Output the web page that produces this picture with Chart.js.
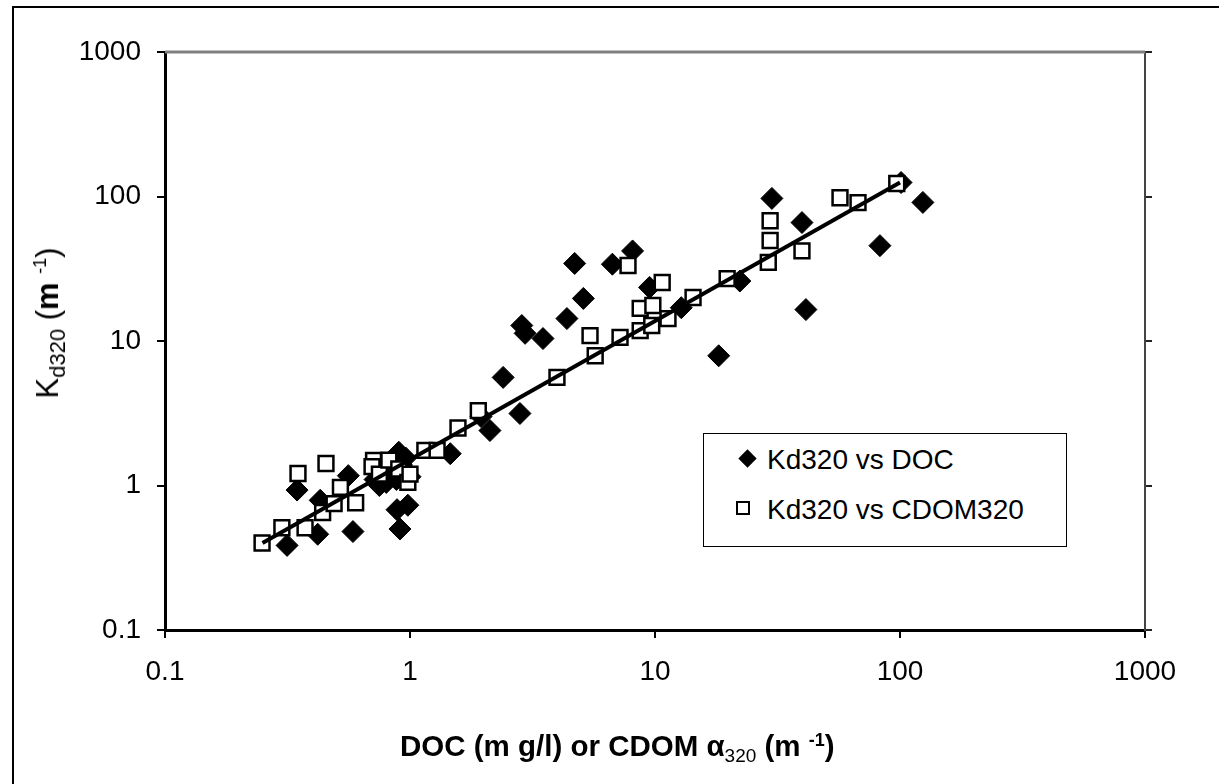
<!DOCTYPE html>
<html><head><meta charset="utf-8">
<script src="https://cdn.jsdelivr.net/npm/chart.js@4.4.0/dist/chart.umd.min.js"></script>
<style>
html,body{margin:0;padding:0;background:#fff;overflow:hidden;}
#wrap{position:relative;width:1219px;height:784px;overflow:hidden;}
#frame{position:absolute;left:12px;top:6px;width:1300px;height:900px;border-left:2px solid #000;border-top:2px solid #000;}
canvas{position:absolute;left:0;top:0;}
.t{position:absolute;font-family:"Liberation Sans",Arial,sans-serif;color:#000;white-space:nowrap;line-height:1;}
#xt{left:400px;top:731px;font-size:29.5px;font-weight:bold;}
#xt sub{font-size:19px;font-weight:normal;vertical-align:-6px;}
#xt sup{font-size:18px;vertical-align:10px;}
#yt{left:50px;top:323px;font-size:31px;transform:translate(-50%,-50%) rotate(-90deg);}
#yt sub{font-size:22px;vertical-align:-7px;}
#yt sup{font-size:18px;vertical-align:12px;}
#leg{position:absolute;left:703px;top:433px;width:362px;height:112px;border:1.5px solid #000;background:#fff;}
.li{position:absolute;font-family:"Liberation Sans",Arial,sans-serif;font-size:28px;line-height:1;white-space:nowrap;}
.dia{position:absolute;width:13px;height:13px;background:#000;transform:rotate(45deg);}
.sq{position:absolute;width:10px;height:10px;border:2px solid #000;background:#fff;}
</style></head>
<body>
<div id="wrap">
<div id="frame"></div>
<canvas id="c" width="1219" height="784"></canvas>
<div class="t" id="yt">K<sub>d320</sub> (<b>m</b> <sup>-1</sup>)</div>
<div class="t" id="xt">DOC (m g/l) or CDOM &alpha;<sub>320</sub> (m <sup>-1</sup>)</div>
<div id="leg">
  <div class="dia" style="left:37px;top:18px;"></div>
  <div class="li" id="l1" style="left:63px;top:12px;"></div>
  <div class="sq" style="left:32px;top:67px;"></div>
  <div class="li" id="l2" style="left:63px;top:62px;"></div>
</div>
</div>
<script>
// ---- data ----
const seriesNames = ['Kd320 vs DOC', 'Kd320 vs CDOM320'];
const xTicks = [0.1, 1, 10, 100, 1000];
const yTicks = [0.1, 1, 10, 100, 1000];

const docX = [0.315,0.346,0.43,0.42,0.56,0.585,0.75,0.8,0.85,0.9,0.95,0.78,0.88,1.0,0.885,0.91,0.98,0.82,0.92,0.86,0.96,0.8,0.72,1.46,2.12,1.95,2.4,2.81,2.86,2.95,3.49,4.37,4.7,5.1,6.7,8.1,9.5,12.8,18.2,22.2,30,39.8,41.3,82.8,101,124];
const docY = [0.385,0.93,0.79,0.46,1.17,0.48,1.0,1.2,1.5,1.7,1.3,1.35,1.1,1.15,0.68,0.5,0.73,1.45,1.4,1.25,1.55,1.05,1.1,1.66,2.4,3.0,5.6,3.15,12.8,11.3,10.4,14.3,34.4,19.7,34,42,23.5,17,7.9,26,97,66,16.5,45.7,125,91];

const cdomX = [0.249,0.30,0.349,0.373,0.44,0.454,0.52,0.49,0.6,0.71,0.7,0.75,0.82,0.9,0.98,1.0,1.15,1.29,1.57,1.9,3.98,5.43,5.7,7.2,7.76,8.7,8.7,9.7,9.8,10.7,11.3,14.3,19.7,29,29.5,29.5,39.8,56.9,67.4,97];
const cdomY = [0.40,0.51,1.21,0.51,0.65,1.42,0.97,0.75,0.76,1.49,1.35,1.2,1.5,1.3,1.05,1.2,1.75,1.75,2.5,3.3,5.6,10.9,7.9,10.6,33.3,11.8,16.8,12.8,17.6,25.4,14.3,20,27,35,49.6,68,42,98,90.8,123];

const trendX = [0.25, 100];
const trendY = [0.4, 125];
// ---------------

document.getElementById('l1').textContent = seriesNames[0];
document.getElementById('l2').textContent = seriesNames[1];

const FONT = '"Liberation Sans", Arial, sans-serif';
const pts = (xs, ys) => xs.map((x, i) => ({x: x, y: ys[i]}));

const topBorder = {
  id: 'topBorder',
  afterDraw(chart) {
    const a = chart.chartArea, ctx = chart.ctx;
    ctx.save();
    ctx.strokeStyle = '#808080';
    ctx.lineWidth = 3;
    ctx.beginPath();
    ctx.moveTo(a.left, a.top);
    ctx.lineTo(a.right, a.top);
    ctx.stroke();
    ctx.restore();
  }
};

new Chart(document.getElementById('c'), {
  type: 'scatter',
  data: {
    datasets: [
      {type: 'line', label: 'trend', data: pts(trendX, trendY), borderColor: '#000', borderWidth: 4,
       pointRadius: 0, fill: false, order: 0},
      {label: seriesNames[1], data: pts(cdomX, cdomY), pointStyle: 'rect', pointRadius: 10.5,
       backgroundColor: '#fff', borderColor: '#000', borderWidth: 2.5, order: 1},
      {label: seriesNames[0], data: pts(docX, docY), pointStyle: 'rectRot', pointRadius: 11,
       backgroundColor: '#000', borderColor: '#000', borderWidth: 1, order: 2}
    ]
  },
  options: {
    responsive: false,
    animation: false,
    devicePixelRatio: 1,
    layout: {padding: {left: 0, right: 0, top: 52, bottom: 0}},
    plugins: {legend: {display: false}, tooltip: {enabled: false}, title: {display: false}},
    scales: {
      x: {
        type: 'logarithmic', position: 'bottom', min: 0.1, max: 1000,
        afterBuildTicks: s => { s.ticks = xTicks.map(v => ({value: v})); },
        afterFit: s => { s.height = 154; },
        ticks: {callback: v => String(v), font: {family: FONT, size: 28}, color: '#000', padding: 17,
                maxRotation: 0, autoSkip: false},
        grid: {drawOnChartArea: false, drawTicks: true, tickLength: 8, color: '#000', lineWidth: 2},
        border: {display: true, color: '#000', width: 3}
      },
      y: {
        type: 'logarithmic', position: 'left', min: 0.1, max: 1000,
        afterBuildTicks: s => { s.ticks = yTicks.map(v => ({value: v})); },
        afterFit: s => { s.width = 165; },
        ticks: {callback: v => String(v), font: {family: FONT, size: 28}, color: '#000', padding: 16, autoSkip: false},
        grid: {drawOnChartArea: false, drawTicks: true, tickLength: 8, color: '#000', lineWidth: 2},
        border: {display: true, color: '#000', width: 3}
      },
      y2: {
        type: 'logarithmic', position: 'right', min: 0.1, max: 1000,
        afterBuildTicks: s => { s.ticks = yTicks.map(v => ({value: v})); },
        afterFit: s => { s.width = 74; },
        ticks: {display: false},
        grid: {drawOnChartArea: false, drawTicks: true, tickLength: 7, color: '#222', lineWidth: 2},
        border: {display: true, color: '#444', width: 2}
      }
    }
  },
  plugins: [topBorder]
});
</script>
</body></html>
